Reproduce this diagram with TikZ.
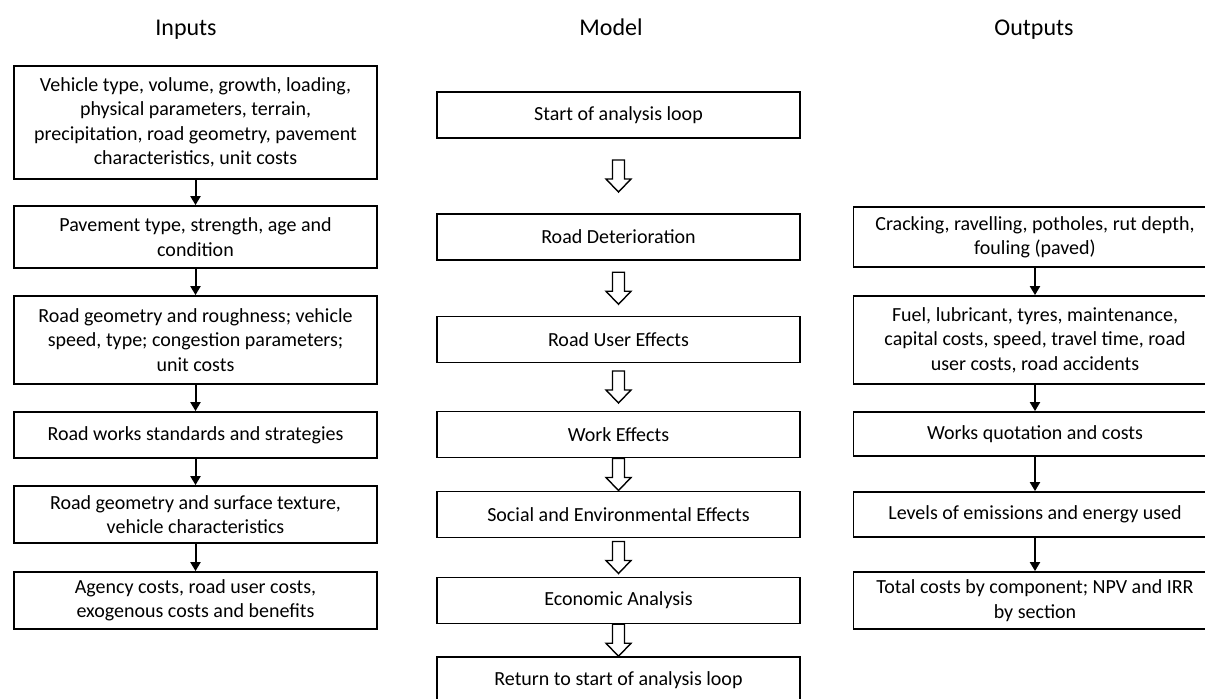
\documentclass[tikz,border=0pt]{standalone}
\usepackage{fontspec}
\setmainfont{Carlito}
\usetikzlibrary{arrows.meta,calc}

\tikzset{
  box/.style={draw,line width=0.9pt,align=center,inner sep=2pt,minimum width=181.5pt,
    font=\fontsize{10}{12.2}\selectfont},
  modelbox/.style={box,minimum height=23pt},
  title/.style={anchor=base,font=\fontsize{12}{14}\selectfont},
  flow/.style={line width=1pt,-{Triangle[length=4.5pt,width=5pt]}},
  hollow/.pic={\draw[line width=0.7pt,fill=white]
    (-3pt,8pt)--(-3pt,-1.5pt)--(-6.25pt,-1.5pt)--(0,-8pt)--(6.25pt,-1.5pt)--(3pt,-1.5pt)--(3pt,8pt)--cycle;}
}

\begin{document}
\begin{tikzpicture}[x=0.5pt,y=-0.5pt]
  \path[use as bounding box,clip] (0,0) rectangle (1205,698);

  % column titles
  \node[title] (tin) at (186,35) {Inputs};
  \node[title] (tmo) at (611,35) {Model};
  \node[title] (tou) at (1034,35) {Outputs};

  % inputs
  \node[box,minimum height=56.5pt] (in1) at (195.5,122.5) {Vehicle type, volume, growth, loading,\\ physical parameters, terrain,\\ precipitation, road geometry, pavement\\ characteristics, unit costs};
  \node[box,minimum height=31pt] (in2) at (195.5,237) {Pavement type, strength, age and\\ condition};
  \node[box,minimum height=44pt] (in3) at (195.5,340) {Road geometry and roughness; vehicle\\ speed, type; congestion parameters;\\ unit costs};
  \node[box,minimum height=23pt] (in4) at (195.5,435) {Road works standards and strategies};
  \node[box,minimum height=28.5pt] (in5) at (195.5,514.5) {Road geometry and surface texture,\\ vehicle characteristics};
  \node[box,minimum height=28.5pt] (in6) at (195.5,600.5) {Agency costs, road user costs,\\ exogenous costs and benefits};

  \foreach \a/\b in {in1/in2,in2/in3,in3/in4,in4/in5,in5/in6}
    \draw[flow] (\a) -- (\b);

  % model
  \node[modelbox] (mo1) at (618.5,115) {Start of analysis loop};
  \node[modelbox] (mo2) at (618.5,237) {Road Deterioration};
  \node[modelbox] (mo3) at (618.5,339.5) {Road User Effects};
  \node[modelbox] (mo4) at (618.5,434.5) {Work Effects};
  \node[modelbox] (mo5) at (618.5,514.5) {Social and Environmental Effects};
  \node[modelbox] (mo6) at (618.5,600.5) {Economic Analysis};
  \node[modelbox] (mo7) at (618.5,680) {Return to start of analysis loop};

  \foreach \a/\b in {mo1/mo2,mo2/mo3,mo3/mo4,mo4/mo5,mo5/mo6,mo6/mo7}
    \pic at ($(\a.south)!.5!(\b.north)$) {hollow};

  % outputs
  \node[box,minimum height=30pt] (ou1) at (1035,237) {Cracking, ravelling, potholes, rut depth,\\ fouling (paved)};
  \node[box,minimum height=44pt] (ou2) at (1035,340) {Fuel, lubricant, tyres, maintenance,\\ capital costs, speed, travel time, road\\ user costs, road accidents};
  \node[box,minimum height=22pt] (ou3) at (1035,434) {Works quotation and costs};
  \node[box,minimum height=22.5pt] (ou4) at (1035,514.5) {Levels of emissions and energy used};
  \node[box,minimum height=28.5pt] (ou5) at (1035,600.5) {Total costs by component; NPV and IRR\\ by section};

  \foreach \a/\b in {ou1/ou2,ou2/ou3,ou3/ou4,ou4/ou5}
    \draw[flow] (\a) -- (\b);
\end{tikzpicture}
\end{document}
